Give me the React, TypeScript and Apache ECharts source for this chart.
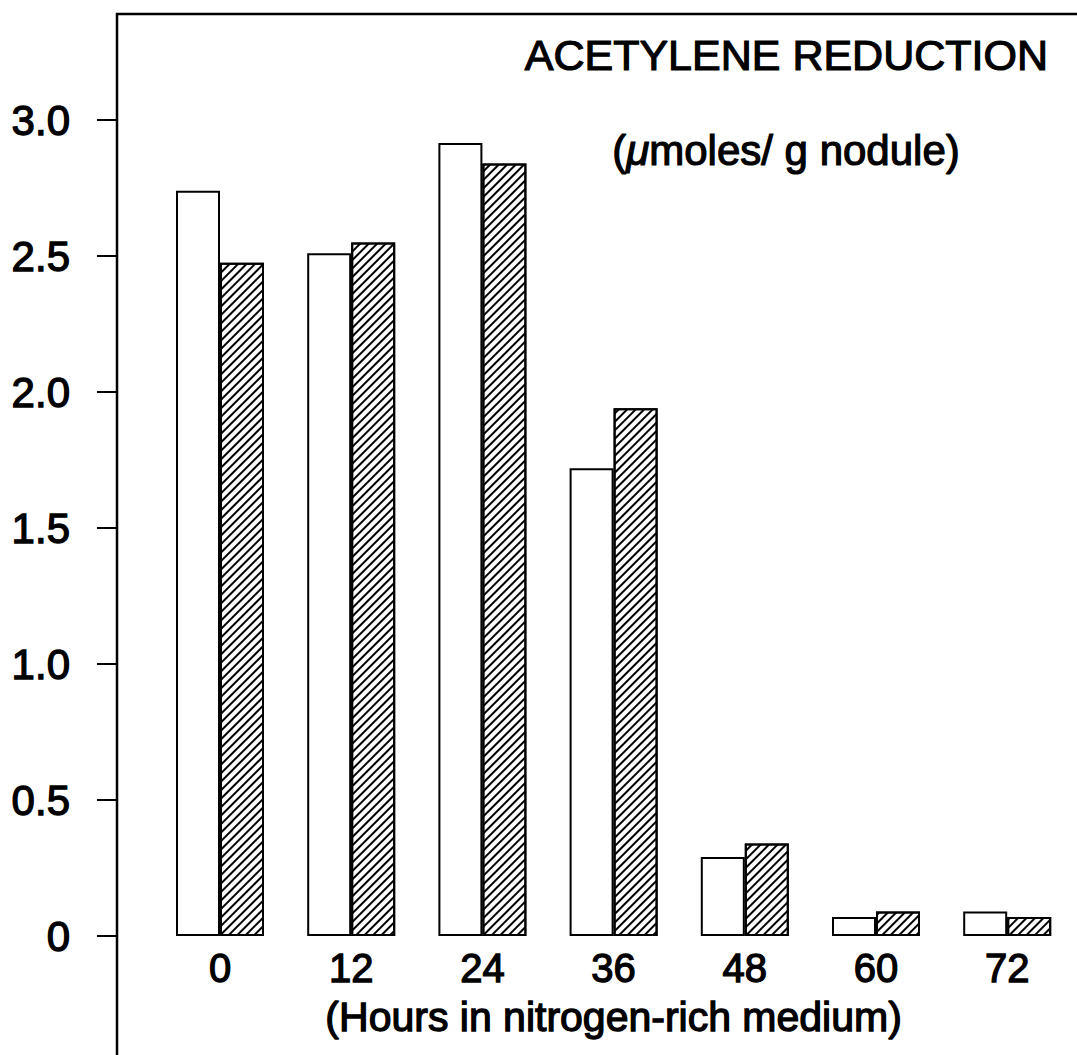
import React, { useEffect, useRef } from 'react';
import * as echarts from 'echarts';

// ---- data ----
const hours: string[] = ['0', '12', '24', '36', '48', '60', '72'];
const openBars: number[] = [2.74, 2.51, 2.915, 1.72, 0.29, 0.07, 0.09];
const hatchedBars: number[] = [2.475, 2.55, 2.84, 1.94, 0.34, 0.09, 0.07];
const yMin = 0;
const yMax = 3;
const yStep = 0.5;
const titleText = 'ACETYLENE REDUCTION';
const unitText = '({mu|\u03bc}moles/ g nodule)';
const xName = '(Hours in nitrogen-rich medium)';

const FONT = "'Liberation Sans', Arial, Helvetica, sans-serif";

export default function App() {
  const ref = useRef<HTMLDivElement>(null);

  useEffect(() => {
    if (!ref.current) return;
    const chart = echarts.init(ref.current, undefined, { renderer: 'svg' });

    const gridLeft = 154.4;
    const gridWidth = 918.4;
    const axisX = 117;

    const textStroke = { textBorderColor: '#000', textBorderWidth: 1.3 };

    chart.setOption({
      animation: false,
      backgroundColor: '#fff',
      grid: { left: gridLeft, width: gridWidth, top: 120, height: 816, containLabel: false },
      xAxis: {
        type: 'category',
        data: hours,
        axisLine: { show: false },
        axisTick: { show: false },
        axisLabel: {
          color: '#000',
          fontSize: 40,
          fontFamily: FONT,
          margin: 12,
          ...textStroke,
        },
        name: xName,
        nameLocation: 'middle',
        nameGap: 60,
        nameTextStyle: { color: '#000', fontSize: 41, fontFamily: FONT, ...textStroke },
      },
      yAxis: {
        type: 'value',
        min: yMin,
        max: yMax,
        interval: yStep,
        offset: gridLeft - axisX,
        splitLine: { show: false },
        axisLine: { show: false },
        axisTick: { show: true, length: 20, lineStyle: { color: '#000', width: 2 } },
        axisLabel: {
          color: '#000',
          fontSize: 42,
          fontFamily: FONT,
          margin: 47,
          formatter: (v: number) => (v === 0 ? '0' : v.toFixed(1)),
          ...textStroke,
        },
      },
      graphic: [
        {
          type: 'polyline',
          shape: { points: [[axisX, 1070], [axisX, 14], [1090, 14]] },
          style: { stroke: '#000', lineWidth: 2.5, fill: null },
          silent: true,
        },
        {
          type: 'text',
          x: 1048,
          y: 55,
          style: {
            text: titleText,
            fontSize: 43,
            fontFamily: FONT,
            fill: '#000',
            align: 'right',
            verticalAlign: 'middle',
            stroke: '#000',
            lineWidth: 1.2,
          },
        },
        {
          type: 'text',
          x: 786,
          y: 150,
          style: {
            text: unitText,
            fontSize: 42,
            fontFamily: FONT,
            fill: '#000',
            align: 'center',
            verticalAlign: 'middle',
            stroke: '#000',
            lineWidth: 1.2,
            rich: {
              mu: { fontSize: 42, fontFamily: FONT, fontStyle: 'italic', fill: '#000', stroke: '#000', lineWidth: 1.2 },
            },
          },
        },
      ],
      series: [
        {
          type: 'bar',
          data: openBars,
          barWidth: 44,
          barGap: '0%',
          itemStyle: { color: '#fff', borderColor: '#000', borderWidth: 2 },
        },
        {
          type: 'bar',
          data: hatchedBars,
          barWidth: 44,
          barGap: '0%',
          itemStyle: {
            color: '#fff',
            borderColor: '#000',
            borderWidth: 2,
            decal: {
              symbol: 'rect',
              symbolSize: 1,
              symbolKeepAspect: false,
              color: '#000',
              backgroundColor: '#fff',
              dashArrayX: [1, 0],
              dashArrayY: [1.3, 3.2],
              rotation: -Math.PI / 4,
            },
          },
        },
      ],
    });

    return () => chart.dispose();
  }, []);

  return (
    <div
      ref={ref}
      style={{ position: 'absolute', left: 0, top: 0, width: 1077, height: 1055, background: '#fff' }}
    />
  );
}
